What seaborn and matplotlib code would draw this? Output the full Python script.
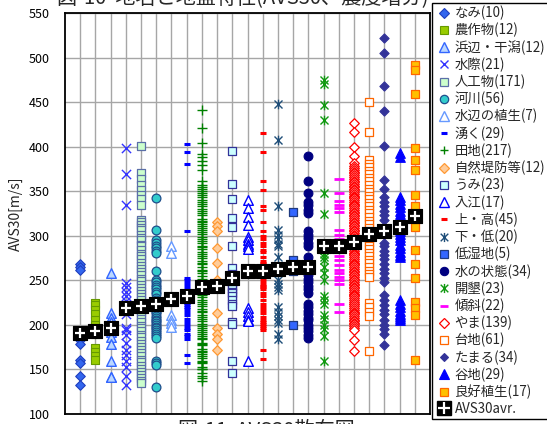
import numpy as np
import matplotlib
matplotlib.use("Agg")
import matplotlib.pyplot as plt
from matplotlib.lines import Line2D
from matplotlib.path import Path
import seaborn as sns

sns.set_theme(style="white")
plt.rcParams['font.family'] = ['Noto Sans CJK JP', 'DejaVu Sans']

# ---- data ----
labels = ["なみ(10)", "農作物(12)", "浜辺・干潟(12)", "水際(21)", "人工物(171)", "河川(56)",
          "水辺の植生(7)", "湧く(29)", "田地(217)", "自然堤防等(12)", "うみ(23)", "入江(17)",
          "上・高(45)", "下・低(20)", "低湿地(5)", "水の状態(34)", "開墾(23)", "傾斜(22)",
          "やま(139)", "台地(61)", "たまる(34)", "谷地(29)", "良好植生(17)"]

nami = [268, 265, 262, 190, 183, 179, 161, 157, 143, 132]
nousakumotsu = [225, 222, 217, 212, 205, 200, 195, 190, 174, 170, 165, 161]
hamabe = [258, 213, 208, 203, 199, 196, 192, 186, 179, 159, 142, 141]
mizugiwa = [399, 369, 335, 247, 242, 237, 232, 227, 222, 217, 212, 197, 194, 189,
            180, 172, 166, 160, 153, 143, 133]
jinkou = [401, 370, 364, 357, 351, 346, 341, 335, 318, 316, 312, 309, 306, 301, 298,
          295, 290, 288, 284, 280, 277, 274, 270, 266, 263, 259, 256, 252, 249, 245,
          241, 238, 235, 231, 228, 224, 220, 217, 214, 210, 207, 203, 199, 196, 193,
          189, 186, 182, 178, 175, 172, 168, 165, 161, 158, 154, 151, 147, 144, 140,
          137, 135]
kasen = [342, 307, 295, 292, 289, 286, 283, 281, 260, 250, 248, 245, 243, 240, 237,
         235, 230, 228, 226, 224, 222, 220, 218, 215, 213, 210, 208, 206, 204, 202,
         200, 198, 196, 194, 192, 190, 188, 185, 160, 157, 155, 130]
mizube = [288, 281, 229, 211, 206, 202, 198]
waku = [403, 394, 380, 305, 253, 250, 247, 244, 240, 236, 232, 229, 226, 222, 218,
        214, 211, 207, 203, 200, 197, 194, 190, 187, 184, 166, 157, 220, 225]
denchi = [441, 421, 404, 392, 388, 384, 379, 374, 362, 357, 355, 353, 350, 348, 346,
          343, 340, 338, 336, 333, 330, 328, 326, 323, 319, 317, 316, 313, 311, 309,
          306, 304, 302, 299, 296, 294, 292, 289, 287, 285, 282, 279, 277, 275, 272,
          270, 268, 265, 262, 260, 258, 255, 252, 250, 248, 245, 241, 239, 238, 235,
          233, 231, 228, 226, 224, 221, 218, 216, 214, 211, 209, 207, 204, 201, 199,
          197, 194, 192, 190, 187, 185, 184, 180, 178, 177, 173, 171, 170, 167, 165,
          163, 160, 158, 157, 153, 151, 150, 146, 143, 140, 137]
shizen = [316, 311, 305, 286, 269, 250, 244, 213, 196, 190, 184, 172]
umi = [395, 358, 341, 320, 310, 288, 264, 257, 255, 252, 248, 244, 240, 237, 236,
       232, 228, 224, 221, 203, 201, 159, 146]
irie = [340, 331, 321, 312, 299, 295, 291, 288, 285, 262, 258, 219, 214, 210, 206,
        204, 159]
ue_taka = [415, 394, 361, 351, 333, 329, 315, 305, 300, 296, 292, 288, 276, 272, 268,
           264, 261, 257, 253, 249, 244, 240, 236, 232, 228, 217, 213, 209, 205, 201,
           197, 194, 172, 162, 282, 284, 270, 266, 246, 242, 224, 220, 203, 199, 259]
shita_hiku = [448, 408, 333, 306, 301, 296, 291, 288, 276, 250, 246, 242, 239, 220,
              215, 210, 206, 202, 190, 184]
teishitsu = [327, 273, 265, 260, 200]
mizu_joutai = [389, 361, 348, 338, 334, 329, 326, 305, 301, 297, 292, 288, 276, 272,
               268, 264, 260, 256, 252, 248, 244, 240, 236, 224, 220, 216, 212, 208,
               205, 200, 197, 193, 189, 185]
kaikon = [475, 470, 447, 430, 348, 324, 288, 284, 280, 276, 273, 265, 258, 250, 232,
          228, 224, 211, 207, 200, 195, 187, 160]
keisha = [364, 348, 339, 335, 331, 327, 306, 301, 296, 292, 288, 285, 277, 273, 267,
          262, 258, 254, 250, 246, 223, 214]
yama = [426, 416, 400, 389, 382, 378, 376, 374, 372, 370, 368, 366, 364, 362, 360,
        358, 356, 355, 353, 351, 349, 347, 345, 344, 342, 340, 338, 336, 334, 333,
        331, 329, 327, 325, 323, 322, 320, 318, 316, 314, 312, 311, 309, 307, 305,
        303, 301, 300, 298, 296, 294, 292, 290, 289, 287, 285, 283, 281, 279, 278,
        276, 274, 272, 270, 268, 267, 265, 263, 261, 259, 257, 256, 254, 252, 250,
        248, 246, 245, 243, 241, 239, 237, 235, 234, 232, 230, 228, 226, 224, 223,
        221, 219, 217, 215, 213, 212, 210, 208, 206, 204, 202, 201, 199, 197, 194,
        183, 171]
daichi = [450, 416, 385, 381, 377, 373, 369, 365, 361, 357, 353, 349, 345, 341, 337,
          333, 329, 325, 321, 317, 313, 309, 305, 301, 297, 293, 289, 285, 281, 277,
          273, 269, 265, 261, 257, 254, 225, 220, 215, 210, 171]
tamaru = [522, 505, 468, 440, 401, 363, 353, 343, 338, 333, 328, 323, 318, 305, 292,
          288, 283, 278, 274, 268, 263, 258, 253, 248, 233, 228, 222, 217, 212, 206,
          200, 195, 190, 177]
yachi = [393, 388, 344, 340, 336, 332, 328, 324, 321, 318, 315, 312, 305, 302, 299,
         295, 290, 286, 282, 278, 276, 228, 224, 220, 216, 212, 210, 208, 205]
ryoukou = [492, 486, 459, 399, 385, 374, 346, 333, 321, 310, 284, 268, 253, 226, 219,
           211, 161]

avs30_avr = [191, 193, 196, 219, 221, 224, 229, 232, 242, 244, 253, 261, 261, 263,
             265, 265, 288, 288, 293, 302, 305, 310, 322]

series = [nami, nousakumotsu, hamabe, mizugiwa, jinkou, kasen, mizube, waku, denchi,
          shizen, umi, irie, ue_taka, shita_hiku, teishitsu, mizu_joutai, kaikon,
          keisha, yama, daichi, tamaru, yachi, ryoukou]

# asterisk (x + vertical bar) marker like Excel's star
star = Path([(-0.5, -0.5), (0.5, 0.5), (-0.5, 0.5), (0.5, -0.5), (0, -0.6), (0, 0.6)],
            [Path.MOVETO, Path.LINETO, Path.MOVETO, Path.LINETO, Path.MOVETO, Path.LINETO])

# marker, size, face, edge, linewidth
styles = [
    ("D", 24, "#3366EE", "#1F3FBF", 0.8),
    ("s", 40, "#99CC00", "#669900", 0.8),
    ("^", 48, "#BBD7FF", "#3366FF", 1.0),
    ("x", 44, "#3333FF", "#3333FF", 1.0),
    ("s", 40, "#CCFFCC", "#5B6FA8", 0.9),
    ("o", 40, "#33CCCC", "#1F4E8C", 0.9),
    ("^", 48, "white", "#6699FF", 1.0),
    ("_", 16, "#0000FF", "#0000FF", 2.2),
    ("+", 44, "#008000", "#008000", 1.0),
    ("D", 24, "#FFCC99", "#FF9933", 0.9),
    ("s", 40, "#CCFFFF", "#333399", 0.9),
    ("^", 48, "white", "#0000FF", 1.0),
    ("_", 16, "#FF0000", "#FF0000", 2.2),
    (star, 48, "#1F4E79", "#1F4E79", 1.0),
    ("s", 40, "#3366FF", "#1F3A80", 0.9),
    ("o", 40, "#000080", "#000080", 0.8),
    (star, 48, "#119911", "#119911", 1.0),
    ("_", 44, "#FF00FF", "#FF00FF", 2.0),
    ("D", 24, "white", "#FF0000", 0.9),
    ("s", 40, "white", "#FF6600", 0.9),
    ("D", 22, "#333399", "#333399", 0.8),
    ("^", 48, "#0000FF", "#0000FF", 0.8),
    ("s", 40, "#FFC000", "#FF6600", 0.9),
]

fig = plt.figure(figsize=(5.47, 4.24), dpi=100)
ax = fig.add_axes([65 / 547, 1 - 414 / 424, 365 / 547, 401 / 424])

for i, (vals, (m, s, fc, ec, lw)) in enumerate(zip(series, styles)):
    xs = np.full(len(vals), i + 1)
    sns.scatterplot(x=xs, y=vals, marker=m, s=s, color=fc, edgecolor=ec,
                    linewidth=lw, ax=ax, legend=False, zorder=3)

pos = np.arange(1, len(avs30_avr) + 1)
sns.scatterplot(x=pos, y=avs30_avr, marker="s", s=105, color="black",
                edgecolor="black", ax=ax, legend=False, zorder=5)
sns.scatterplot(x=pos, y=avs30_avr, marker="+", s=50, color="white",
                linewidth=1.6, ax=ax, legend=False, zorder=6)

ax.set_xlim(0, 24)
ax.set_ylim(100, 550)
ax.set_xticks(range(1, 24))
ax.set_xticklabels([])
ax.set_yticks(range(100, 551, 50))
ax.tick_params(axis="x", length=0)
ax.tick_params(axis="y", direction="in", length=3, labelsize=9, pad=11, colors="black")
ax.grid(True, color="#A6A6A6", linewidth=1)
ax.set_axisbelow(True)
for sp in ax.spines.values():
    sp.set_color("black")
    sp.set_linewidth(1.3)
ax.set_xlabel("")
ax.set_ylabel("AVS30[m/s]", fontsize=10)
ax.yaxis.set_label_coords(-0.115, 0.5)

# captions that are cut by the image edges
fig.text(243 / 547, 1.005, "図-10  地名と地盤特性(AVS30、震度増分)", fontsize=14.5,
         ha="center", va="center")
fig.text(266 / 547, 1 - 420 / 424, "図-11  AVS30散布図", fontsize=14.5,
         ha="center", va="top")

# legend
handles = []
for (m, s, fc, ec, lw) in styles:
    handles.append(Line2D([], [], linestyle="none", marker=m, markersize=np.sqrt(s) * 0.95,
                          markerfacecolor=fc, markeredgecolor=ec, markeredgewidth=lw,
                          color=ec))
avg_handle = (Line2D([], [], linestyle="none", marker="s", markersize=10, color="black"),
              Line2D([], [], linestyle="none", marker="+", markersize=8, color="white",
                     markeredgewidth=1.6))
handles.append(avg_handle)
leg = fig.legend(handles, labels + ["AVS30avr."], loc="upper left",
                 bbox_to_anchor=(432 / 547, 1 - 3 / 424), fontsize=9.6,
                 frameon=True, fancybox=False, framealpha=1, edgecolor="black",
                 handlelength=1.35, handletextpad=0.15, labelspacing=0.2,
                 borderpad=0.2, borderaxespad=0)
leg.get_frame().set_linewidth(1.0)
leg.set_zorder(10)

fig.savefig("out.png", dpi=100)
